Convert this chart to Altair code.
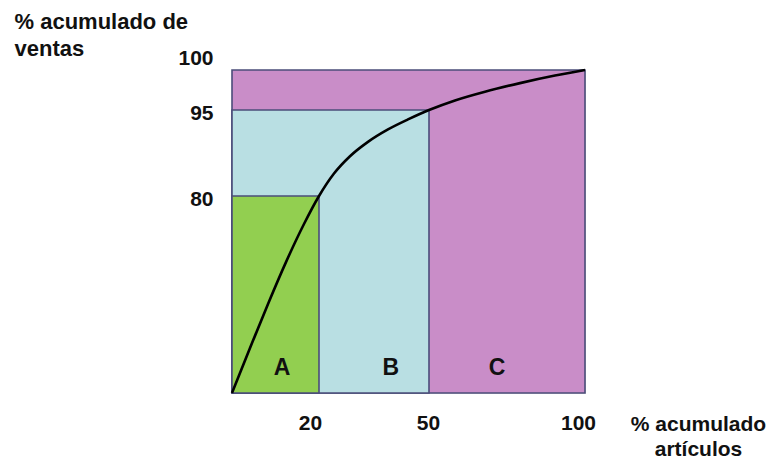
import altair as alt
import pandas as pd

# Zones (ABC analysis)
zone_names = ["C", "B", "A"]
zone_x_end = [100, 50, 20]
zone_y_end = [100, 95, 80]
zone_colors = ["#c98dc8", "#b9dfe3", "#92cf50"]

# Zone labels
label_text = ["A", "B", "C"]
label_x = [11.5, 39.6, 71.8]
label_y = [10.2, 10.2, 10.2]

# Cumulative curve (% artículos vs % ventas)
curve_x = [0, 4.14, 8.28, 12.41, 16.55, 20, 24.09, 28.45, 33.36, 38.82, 44.27, 50, 58.33, 67.95, 79.17, 90.38, 100]
curve_y = [0, 18.27, 36.18, 53.16, 68.63, 80, 83.92, 86.94, 89.45, 91.62, 93.36, 95, 96.2, 97.29, 98.36, 99.3, 100]

x_ticks = [20, 50, 100]
y_ticks = [80, 95, 100]

W, H = 353, 323
xscale = alt.Scale(domain=[0, 20, 50, 100], range=[0, 87, 197, 353])
yscale = alt.Scale(domain=[0, 80, 95, 100], range=[323, 126, 40, 0])

zones = pd.DataFrame({"zone": zone_names, "x0": [0, 0, 0], "x1": zone_x_end,
                      "y0": [0, 0, 0], "y1": zone_y_end, "color": zone_colors,
                      "order": [0, 1, 2]})
labels = pd.DataFrame({"t": label_text, "x": label_x, "y": label_y})
curve = pd.DataFrame({"x": curve_x, "y": curve_y})

font = "Liberation Sans"

xaxis = alt.Axis(values=x_ticks, ticks=False, domain=False, grid=False,
                 labelFont=font, labelFontSize=21, labelFontWeight="bold", labelColor="#111",
                 labelPadding=30, labelBaseline="middle", labelFlush=False,
                 labelOffset={"condition": [
                     {"test": "datum.value == 20", "value": -9},
                     {"test": "datum.value == 100", "value": -7}], "value": -1},
                 title=["% acumulado", "artículos"], titleFont=font, titleFontSize=21,
                 titleFontWeight="bold", titleColor="#111", titleAngle=0,
                 titleX=466, titleY=20, titleAlign="center", titleBaseline="top",
                 titleLineHeight=25)
yaxis = alt.Axis(values=y_ticks, ticks=False, domain=False, grid=False,
                 labelFont=font, labelFontSize=21, labelFontWeight="bold", labelColor="#111",
                 labelPadding=19, labelBaseline="middle",
                 labelOffset={"condition": {"test": "datum.value == 100", "value": -12}, "value": 3},
                 title=["% acumulado de", " ventas"], titleFont=font, titleFontSize=22,
                 titleFontWeight="bold", titleColor="#111", titleAngle=0,
                 titleX=-218, titleY=-59, titleAlign="left", titleBaseline="top",
                 titleLineHeight=27)

rects = alt.Chart(zones).mark_rect(stroke="#4b4d7a", strokeWidth=1.6).encode(
    x=alt.X("x0:Q", scale=xscale, axis=xaxis),
    x2="x1:Q",
    y=alt.Y("y0:Q", scale=yscale, axis=yaxis),
    y2="y1:Q",
    color=alt.Color("color:N", scale=None),
    order="order:Q",
)

line = alt.Chart(curve).mark_line(color="#000", strokeWidth=2.6, interpolate="monotone").encode(
    x=alt.X("x:Q", scale=xscale),
    y=alt.Y("y:Q", scale=yscale),
)

text = alt.Chart(labels).mark_text(font=font, fontSize=23, fontWeight="bold", color="#111",
                                   baseline="middle", align="center").encode(
    x=alt.X("x:Q", scale=xscale),
    y=alt.Y("y:Q", scale=yscale),
    text="t:N",
)

chart = alt.layer(rects, line, text).properties(
    width=W, height=H,
    autosize=alt.AutoSizeParams(type="none"),
    padding={"left": 224, "top": 62, "right": 189, "bottom": 67},
).configure_view(stroke=None).configure(background="white")

chart.save("out.html", embed_options={"renderer": "svg", "actions": False})
